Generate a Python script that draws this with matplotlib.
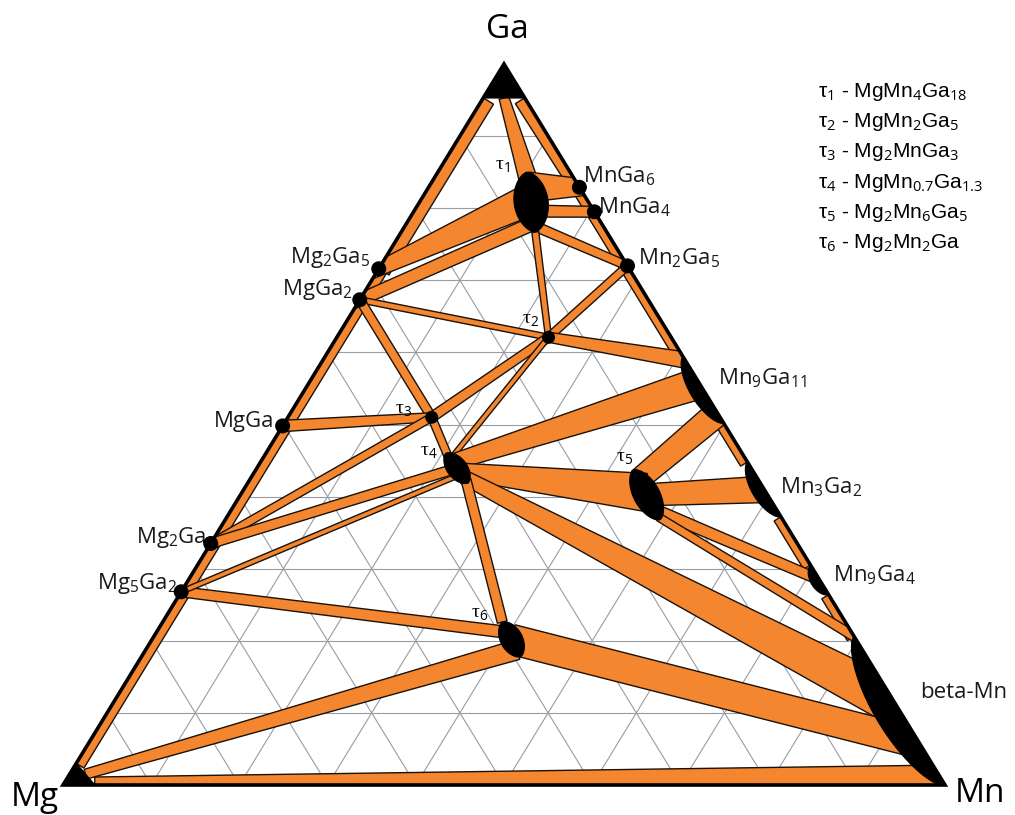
import numpy as np
import matplotlib.pyplot as plt
from matplotlib.patches import Polygon, Circle

plt.rcParams['font.family'] = ['Open Sans', 'DejaVu Sans']
plt.rcParams['mathtext.fontset'] = 'custom'
plt.rcParams['mathtext.rm'] = 'Open Sans'
plt.rcParams['mathtext.it'] = 'Open Sans:italic'

# Mg-Mn-Ga isothermal section; compositions are (at.% Mn, at.% Ga), Mg is the balance
corner_fields = {
    'Ga': [(0.0, 100.0), (0.0, 95.3), (4.7, 95.3)],
    'Mg': [(0.0, 0.0), (0.0, 3.0), (3.6, 0.0)],
}
point_phases = {
    'Mg2Ga5': (0.0, 71.6),
    'MgGa2': (0.0, 67.3),
    'MgGa': (0.0, 49.8),
    'Mg2Ga': (0.0, 33.5),
    'Mg5Ga2': (0.0, 26.8),
    'MnGa6': (17.1, 82.9),
    'MnGa4': (20.5, 79.5),
    'Mn2Ga5': (28.0, 72.0),
    't2': (24.0, 62.1),
    't3': (16.3, 51.0),
}
# phases with a homogeneity range: two end compositions
range_phases = {
    'Mn9Ga11': [(40.6, 59.4), (49.8, 50.2)],
    'Mn3Ga2': [(55.2, 44.8), (62.8, 37.2)],
    'Mn9Ga4': [(69.5, 30.5), (73.6, 26.4)],
    'beta-Mn': [(79.4, 20.6), (100.0, 0.0)],
    't1': [(10.1, 85.0), (15.2, 76.7)],
    't4': [(20.4, 46.0), (25.0, 41.9)],
    't5': [(42.8, 43.7), (49.3, 36.8)],
    't6': [(38.5, 22.6), (43.0, 17.8)],
}

# two-phase fields: (phase, position on phase, phase, position on phase)
two_phase = [
    # binary Mg-Ga
    ('Mg', 0.0, 'Mg5Ga2', 0), ('Mg5Ga2', 0, 'Mg2Ga', 0), ('Mg2Ga', 0, 'MgGa', 0),
    ('MgGa', 0, 'MgGa2', 0), ('MgGa2', 0, 'Mg2Ga5', 0), ('Mg2Ga5', 0, 'Ga', 0.0),
    # binary Mn-Ga
    ('Ga', 1.0, 'MnGa6', 0), ('MnGa6', 0, 'MnGa4', 0), ('MnGa4', 0, 'Mn2Ga5', 0),
    ('Mn2Ga5', 0, 'Mn9Ga11', 0.0), ('Mn9Ga11', 1.0, 'Mn3Ga2', 0.0),
    ('Mn3Ga2', 1.0, 'Mn9Ga4', 0.0), ('Mn9Ga4', 1.0, 'beta-Mn', 0.0),
    # binary Mg-Mn
    ('Mg', 1.0, 'beta-Mn', 1.0),
    # ternary
    ('Ga', 0.5, 't1', 0.1), ('Mg2Ga5', 0, 't1', 0.45), ('MgGa2', 0, 't1', 0.85),
    ('t1', 0.25, 'MnGa6', 0), ('t1', 0.65, 'MnGa4', 0), ('t1', 0.9, 'Mn2Ga5', 0),
    ('t1', 1.0, 't2', 0), ('Mn2Ga5', 0, 't2', 0), ('t2', 0, 'Mn9Ga11', 0.05),
    ('MgGa2', 0, 't2', 0), ('MgGa2', 0, 't3', 0), ('MgGa', 0, 't3', 0),
    ('t3', 0, 't2', 0), ('t3', 0, 't4', 0.1), ('Mg2Ga', 0, 't3', 0),
    ('t2', 0, 't4', 0.2), ('t4', 0.3, 'Mn9Ga11', 0.4), ('Mn9Ga11', 0.85, 't5', 0.2),
    ('t4', 0.6, 't5', 0.45), ('t5', 0.5, 'Mn3Ga2', 0.5), ('t5', 0.8, 'Mn9Ga4', 0.5),
    ('t5', 0.95, 'beta-Mn', 0.0), ('t4', 0.8, 'beta-Mn', 0.45), ('t6', 0.5, 'beta-Mn', 0.72),
    ('t4', 0.9, 't6', 0.0), ('Mg5Ga2', 0, 't6', 0.3), ('Mg', 0.5, 't6', 0.8),
    ('Mg5Ga2', 0, 't4', 0.7), ('Mg2Ga', 0, 't4', 0.5),
]
# band widths (px) at each end of the two-phase fields above
band_w = [
    (18, 18), (18, 18), (18, 18), (18, 18), (18, 18), (24, 24),
    (22, 18), (16, 16), (16, 16), (16, 16), (16, 16), (16, 16), (16, 16),
    (16, 40),
    (10, 18), (10, 32), (12, 14),
    (30, 8), (12, 10), (10, 8),
    (7, 6), (8, 8), (10, 18),
    (6, 6), (9, 9), (12, 9),
    (10, 9), (8, 8), (8, 8),
    (5, 5), (16, 34), (28, 22),
    (16, 38), (22, 28), (12, 10),
    (8, 10), (14, 46), (30, 30),
    (10, 10), (10, 12), (10, 20),
    (5, 5), (10, 10),
]
lens_w = {'Mn9Ga11': 13, 'Mn3Ga2': 12, 'Mn9Ga4': 9, 'beta-Mn': 24,
          't1': 17, 't4': 10, 't5': 13, 't6': 11}

binary_labels = [
    (r'Mg$_2$Ga$_5$', 370, 258, 'right'), (r'MgGa$_2$', 353, 290, 'right'),
    ('MgGa', 274, 422, 'right'), (r'Mg$_2$Ga', 206, 537, 'right'),
    (r'Mg$_5$Ga$_2$', 178, 583, 'right'),
    (r'MnGa$_6$', 583, 176, 'left'), (r'MnGa$_4$', 598, 207, 'left'),
    (r'Mn$_2$Ga$_5$', 638, 258, 'left'), (r'Mn$_9$Ga$_{11}$', 718, 378, 'left'),
    (r'Mn$_3$Ga$_2$', 780, 487, 'left'), (r'Mn$_9$Ga$_4$', 833, 575, 'left'),
    ('beta-Mn', 920, 693, 'left'),
]
tau_labels = [('1', 502, 166), ('2', 531, 320), ('3', 403, 410),
              ('4', 429, 452), ('5', 625, 458), ('6', 480, 614)]
legend_rows = [r'MgMn$_4$Ga$_{18}$', r'MgMn$_2$Ga$_5$', r'Mg$_2$MnGa$_3$',
               r'MgMn$_{0.7}$Ga$_{1.3}$', r'Mg$_2$Mn$_6$Ga$_5$', r'Mg$_2$Mn$_2$Ga']

ORANGE = '#F3862F'
V_MG = np.array([63.0, 785.0])
V_MN = np.array([945.0, 785.0])
V_GA = np.array([504.0, 64.0])


def to_xy(c):
    mn, ga = c[0] / 100.0, c[1] / 100.0
    return V_MG + mn * (V_MN - V_MG) + ga * (V_GA - V_MG)


def attach_comp(name, t):
    if name in point_phases:
        return np.array(point_phases[name], float)
    if name in corner_fields:
        a, b = np.array(corner_fields[name][1:], float)
    else:
        a, b = np.array(range_phases[name], float)
    return a + t * (b - a)


def on_edge(c):
    return np.array([c[0], c[1], 100 - c[0] - c[1]]) < 0.05


def lens(a, b, w, n=80):
    # pointed oval between end points a and b, half thickness w
    th = np.linspace(0, 2 * np.pi, n)
    mid = (a + b) / 2
    half = (b - a) / 2
    L = np.linalg.norm(half)
    d = half / L
    nrm = np.array([-d[1], d[0]])
    s = np.sin(th)
    across = w * s * np.abs(s) ** 0.25
    return mid + np.outer(L * np.cos(th), d) + np.outer(across, nrm)


fig = plt.figure(figsize=(10.15, 8.15), dpi=100)
ax = fig.add_axes([0, 0, 1, 1])
ax.set_xlim(0, 1015)
ax.set_ylim(815, 0)
ax.axis('off')

tri = Polygon([V_MG, V_MN, V_GA], closed=True, fc='none', ec='black', lw=2.6, zorder=10)
ax.add_patch(tri)

# 10 % grid
for k in range(10, 100, 10):
    for p, q in [((0, k), (100 - k, k)), ((k, 0), (k, 100 - k)), ((100 - k, 0), (0, 100 - k))]:
        xy = np.array([to_xy(p), to_xy(q)])
        ax.plot(xy[:, 0], xy[:, 1], color='#9a9ca3', lw=0.8, zorder=1)

# two-phase fields
for (na, ta, nb, tb), (wa, wb) in zip(two_phase, band_w):
    ca, cb = attach_comp(na, ta), attach_comp(nb, tb)
    pa, pb = to_xy(ca), to_xy(cb)
    d = (pb - pa) / np.linalg.norm(pb - pa)
    nrm = np.array([-d[1], d[0]])
    edge_strip = np.any(on_edge(ca) & on_edge(cb))
    if not edge_strip:
        if on_edge(ca).any():
            pa = pa - d * 40
        if on_edge(cb).any():
            pb = pb + d * 40
    poly = [pa + nrm * wa / 2, pb + nrm * wb / 2, pb - nrm * wb / 2, pa - nrm * wa / 2]
    z = 2 if edge_strip else 3
    band = Polygon(poly, closed=True, fc=ORANGE, ec='#1a1208', lw=1.0, zorder=z)
    ax.add_patch(band)
    band.set_clip_path(tri)

# single-phase fields
for name, pts in corner_fields.items():
    ax.add_patch(Polygon([to_xy(p) for p in pts], closed=True, fc='black', ec='black', zorder=6))
for name, (a, b) in range_phases.items():
    shape = Polygon(lens(to_xy(a), to_xy(b), lens_w[name]), closed=True,
                    fc='black', ec='black', lw=0.8, zorder=6)
    ax.add_patch(shape)
    shape.set_clip_path(tri)
for name, c in point_phases.items():
    r = 6.5 if name.startswith('t') else 7.5
    ax.add_patch(Circle(to_xy(c), r, fc='black', ec='none', zorder=6))

# labels
ax.text(507, 30, 'Ga', fontsize=24, ha='center', va='center')
ax.text(35, 798, 'Mg', fontsize=24, ha='center', va='center')
ax.text(980, 794, 'Mn', fontsize=24, ha='center', va='center')
for txt, x, y, ha in binary_labels:
    ax.text(x, y, txt, fontsize=16, ha=ha, va='center', color='#1a1a1a')
for i, x, y in tau_labels:
    ax.text(x, y, 'τ$_' + i + '$', fontsize=14, ha='center', va='center',
            family=['Liberation Serif', 'DejaVu Serif'])
for i, row in enumerate(legend_rows):
    ax.text(818, 92 + i * 30.2, 'τ$_%d$ - ' % (i + 1) + row, fontsize=15,
            ha='left', va='center', family=['Liberation Sans', 'DejaVu Sans'])

fig.savefig('out.png', dpi=100)
